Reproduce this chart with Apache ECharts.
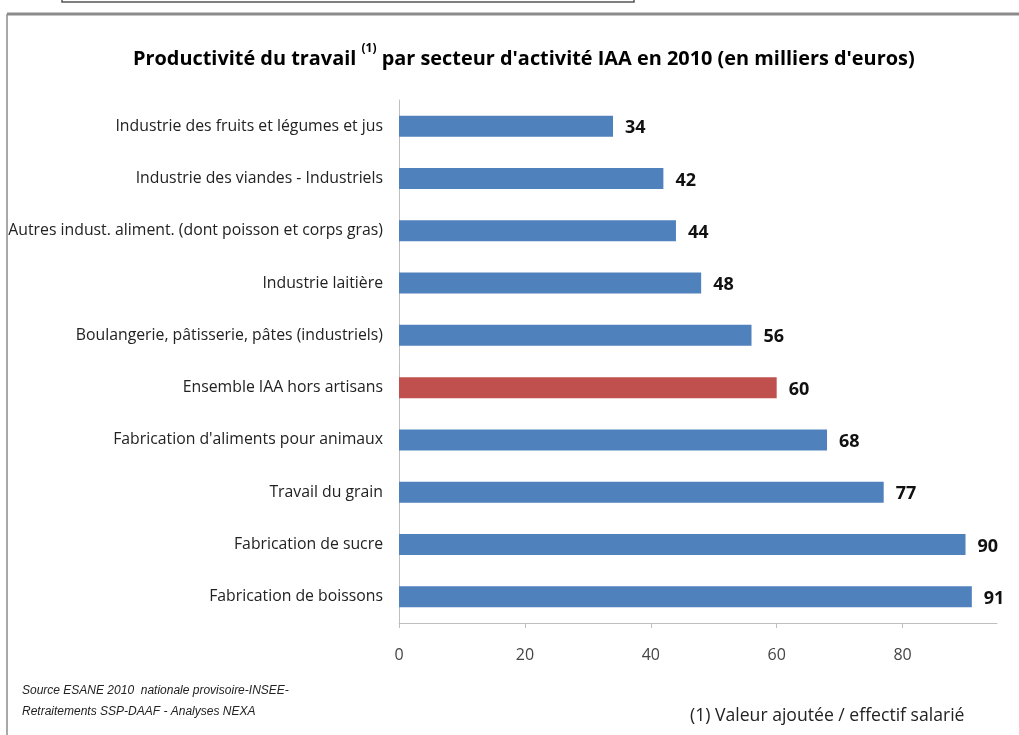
<!DOCTYPE html>
<html>
<head>
<meta charset="utf-8">
<script src="https://cdn.jsdelivr.net/npm/echarts@6/dist/echarts.min.js"></script>
<style>
  html, body { margin: 0; padding: 0; background: #fff; }
  #chart { width: 1019px; height: 735px; }
</style>
</head>
<body>
<div id="chart"></div>
<script>
// Sectors, listed from the top of the chart down
const sectors = [
  "Industrie des fruits et légumes et jus",
  "Industrie des viandes - Industriels",
  "Autres indust. aliment. (dont poisson et corps gras)",
  "Industrie laitière",
  "Boulangerie, pâtisserie, pâtes (industriels)",
  "Ensemble IAA hors artisans",
  "Fabrication d'aliments pour animaux",
  "Travail du grain",
  "Fabrication de sucre",
  "Fabrication de boissons"
];
// Labour productivity, thousands of euros
const productivity = [34, 42, 44, 48, 56, 60, 68, 77, 90, 91];
// The aggregate row is highlighted
const highlighted = "Ensemble IAA hors artisans";
const xTicks = [0, 20, 40, 60, 80];

const FONT = "'Open Sans', 'Liberation Sans', sans-serif";
const BLUE = '#4F81BD';
const RED = '#C0504D';

const chart = echarts.init(document.getElementById('chart'));

chart.setOption({
  animation: false,
  backgroundColor: '#ffffff',
  title: {
    text: "{m|Productivité du travail }{s|(1)}{m| par secteur d'activité IAA en 2010 (en milliers d'euros)}",
    left: 128,
    top: 38,
    textStyle: {
      rich: {
        m: { fontFamily: FONT, fontSize: 19.9, fontWeight: 'bold', color: '#000', verticalAlign: 'bottom', lineHeight: 26 },
        s: { fontFamily: FONT, fontSize: 12, fontWeight: 'bold', color: '#000', verticalAlign: 'top', lineHeight: 26, padding: [0, 0, 10, 0] }
      }
    }
  },
  grid: { left: 399, right: 22, top: 100, bottom: 112, containLabel: false },
  xAxis: {
    type: 'value',
    min: 0,
    max: 95,
    splitLine: { show: false },
    axisLine: { show: true, lineStyle: { color: '#bfbfbf', width: 1 } },
    axisTick: { show: true, length: 5, lineStyle: { color: '#bfbfbf' }, customValues: xTicks },
    axisLabel: {
      customValues: xTicks,
      fontFamily: FONT, fontSize: 16, color: '#444', margin: 24
    }
  },
  yAxis: {
    type: 'category',
    inverse: true,
    data: sectors,
    axisLine: { show: true, lineStyle: { color: '#bfbfbf', width: 1 } },
    axisTick: { show: false },
    axisLabel: { fontFamily: FONT, fontSize: 15.8, color: '#222', margin: 16 }
  },
  series: [{
    type: 'bar',
    barWidth: 21,
    data: productivity.map((v, i) => ({
      value: v,
      itemStyle: { color: sectors[i] === highlighted ? RED : BLUE }
    })),
    label: {
      show: true,
      position: 'right',
      distance: 12,
      offset: [0, 2],
      fontFamily: FONT,
      fontSize: 18,
      fontWeight: 'bold',
      color: '#111'
    }
  }],
  graphic: [
    // frame of the chart area
    { type: 'line', shape: { x1: 7, y1: 14, x2: 1019, y2: 14 }, style: { stroke: '#8c8c8c', lineWidth: 3 } },
    { type: 'line', shape: { x1: 7, y1: 14, x2: 7, y2: 735 }, style: { stroke: '#8c8c8c', lineWidth: 1.5 } },
    // box above the chart
    { type: 'rect', shape: { x: 62, y: -10, width: 572, height: 12 }, style: { fill: '#fff', stroke: '#555', lineWidth: 1.5 } },
    // sources
    { type: 'text', left: 22, top: 685, style: { text: 'Source ESANE 2010  nationale provisoire-INSEE-', font: "italic 12px 'Liberation Sans', sans-serif", fill: '#222' } },
    { type: 'text', left: 22, top: 706, style: { text: 'Retraitements SSP-DAAF - Analyses NEXA', font: "italic 12px 'Liberation Sans', sans-serif", fill: '#222' } },
    // footnote
    { type: 'text', left: 690, top: 707, style: { text: '(1) Valeur ajoutée / effectif salarié', font: "17.6px 'Open Sans', sans-serif", fill: '#222' } }
  ]
});
</script>
</body>
</html>
